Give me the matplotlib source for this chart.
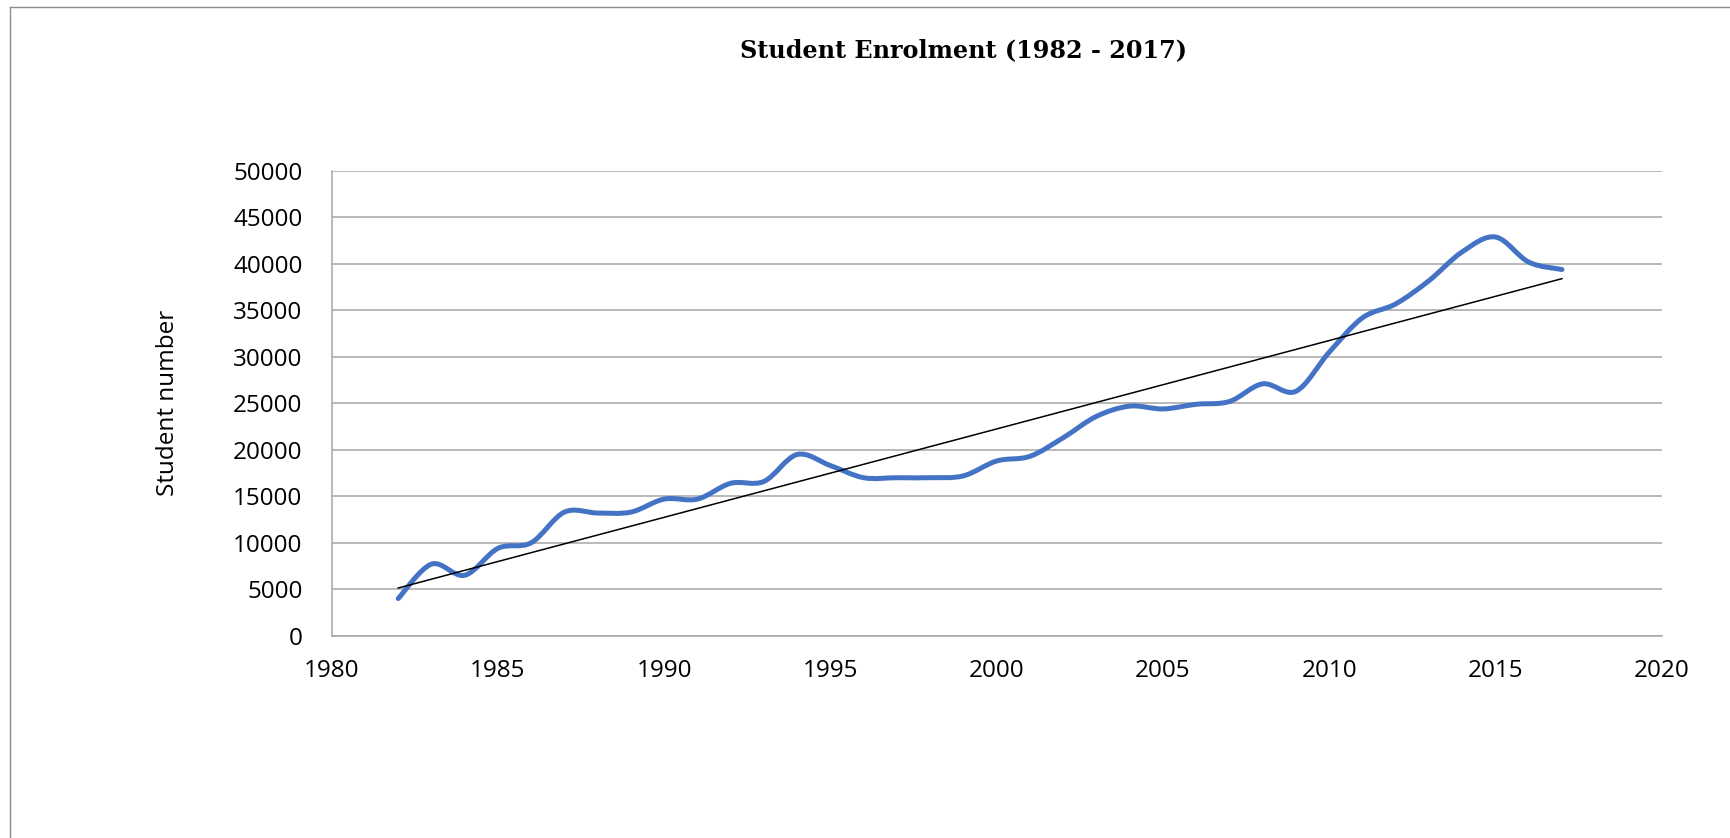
import numpy as np
import matplotlib
matplotlib.use("Agg")
import matplotlib.pyplot as plt
from matplotlib.path import Path
from matplotlib.patches import PathPatch
from matplotlib.lines import Line2D

years = list(range(1982, 2018))
students = [4000, 7700, 6500, 9400, 10000, 13300, 13200, 13300, 14700, 14700,
            16400, 16600, 19500, 18300, 17000, 17000, 17000, 17200, 18800, 19300,
            21300, 23600, 24700, 24400, 24900, 25200, 27100, 26300, 30500, 34200,
            35700, 38200, 41300, 42900, 40200, 39400]
x_ticks = [1980, 1985, 1990, 1995, 2000, 2005, 2010, 2015, 2020]
y_ticks = list(range(0, 50001, 5000))
title = "Student Enrolment (1982 - 2017)"
ylabel = "Student number"

W, H = 1731, 838
fig = plt.figure(figsize=(W / 100, H / 100), dpi=100)
ax = fig.add_axes([331.7 / W, 1 - 635.7 / H, (1661.7 - 331.7) / W, (635.7 - 171) / H])

grid_c = "#a6a6a6"
ax.set_xlim(1980, 2020)
ax.set_ylim(0, 50000)
ax.set_xticks(x_ticks)
ax.set_yticks(y_ticks)
ax.yaxis.grid(True, color=grid_c, lw=1.1)
ax.set_axisbelow(True)
for s in ["top", "right"]:
    ax.spines[s].set_visible(False)
for s in ["left", "bottom"]:
    ax.spines[s].set_color(grid_c)
    ax.spines[s].set_linewidth(1.1)
ax.tick_params(length=0, labelsize=17.5, colors="black")
ax.tick_params(axis="y", pad=21)
ax.tick_params(axis="x", pad=17)
for lab in ax.get_xticklabels() + ax.get_yticklabels():
    lab.set_fontfamily("Open Sans")

# Smoothed line (Excel-style Catmull-Rom -> cubic Bezier)
xs = np.array(years, dtype=float)
ys = np.array(students, dtype=float)
verts = [(xs[0], ys[0])]
codes = [Path.MOVETO]
n = len(xs)
for i in range(n - 1):
    p0 = (xs[max(i - 1, 0)], ys[max(i - 1, 0)])
    p1 = (xs[i], ys[i])
    p2 = (xs[i + 1], ys[i + 1])
    p3 = (xs[min(i + 2, n - 1)], ys[min(i + 2, n - 1)])
    c1 = (p1[0] + (p2[0] - p0[0]) / 6, p1[1] + (p2[1] - p0[1]) / 6)
    c2 = (p2[0] - (p3[0] - p1[0]) / 6, p2[1] - (p3[1] - p1[1]) / 6)
    verts += [c1, c2, p2]
    codes += [Path.CURVE4] * 3
patch = PathPatch(Path(verts, codes), facecolor="none", edgecolor="#4472C4",
                  lw=3.6, capstyle="round", joinstyle="round", zorder=3)
ax.add_patch(patch)

# Linear trendline
k, b = np.polyfit(xs, ys, 1)
ax.plot([xs[0], xs[-1]], [k * xs[0] + b, k * xs[-1] + b], color="black", lw=1.1, zorder=4)

fig.text(964 / W, 1 - 50 / H, title, ha="center", va="center",
         fontsize=17.2, fontweight="bold", family="DejaVu Serif")
fig.text(168 / W, 1 - 403 / H, ylabel, ha="center", va="center", rotation=90,
         fontsize=17.5, family="Open Sans")

# chart border (top and left)
fig.add_artist(Line2D([10 / W, 1], [1 - 7 / H, 1 - 7 / H], color="#8c8c8c", lw=1))
fig.add_artist(Line2D([10 / W, 10 / W], [0, 1 - 7 / H], color="#8c8c8c", lw=1))

fig.savefig("out.png", dpi=100)
